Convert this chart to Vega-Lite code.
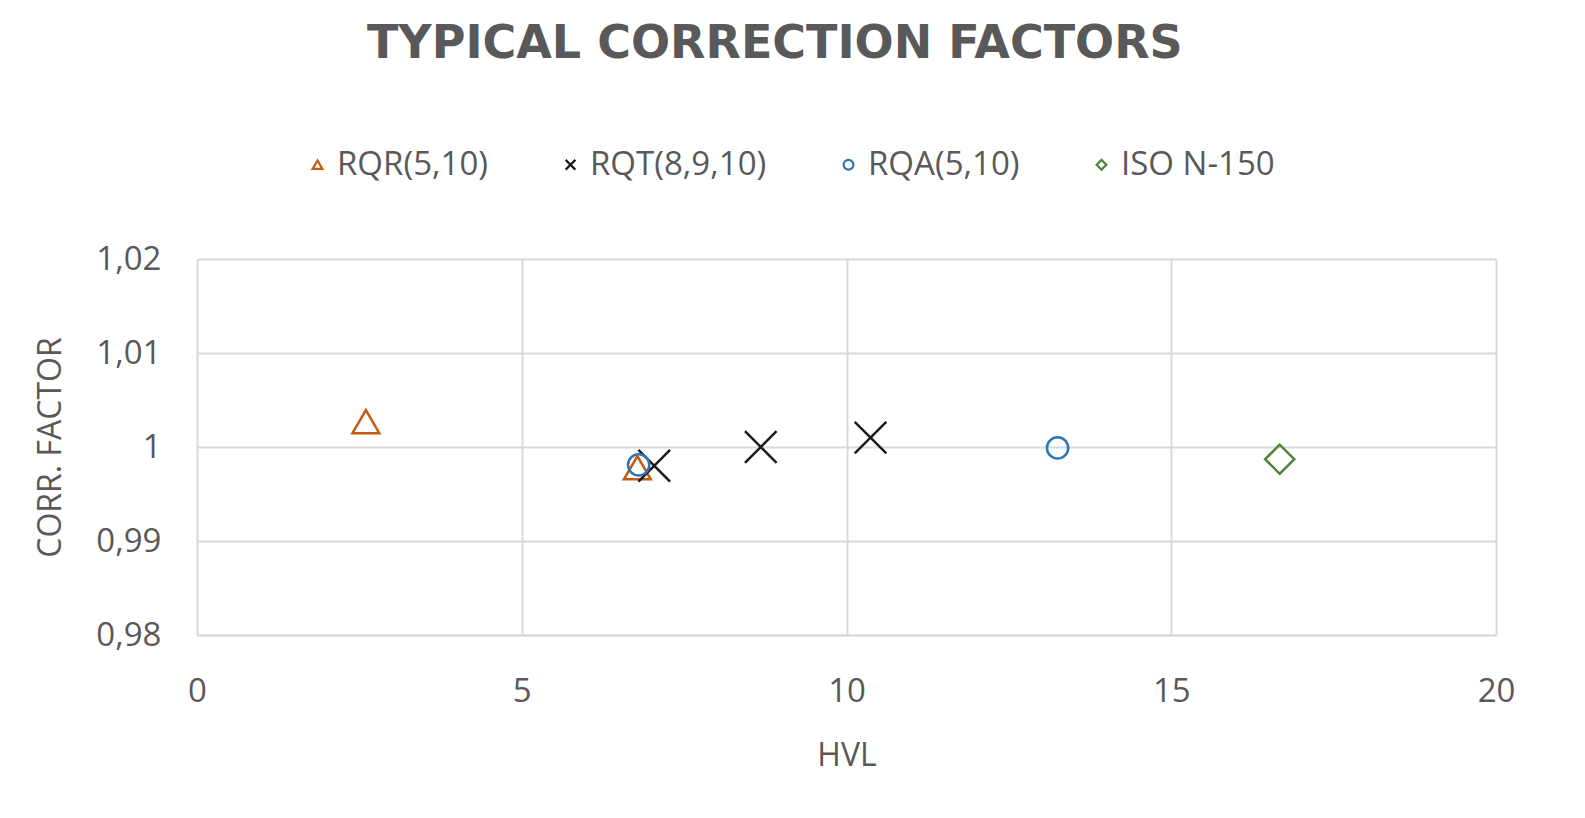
{
  "$schema": "https://vega.github.io/schema/vega-lite/v6.json",
  "width": 1299,
  "height": 376,
  "autosize": {"type": "none"},
  "padding": {"left": 197, "top": 259, "right": 89, "bottom": 183},
  "background": "white",
  "title": {
    "text": "TYPICAL CORRECTION FACTORS",
    "font": "DejaVu Sans",
    "fontSize": 46,
    "fontWeight": "bold",
    "color": "#595959",
    "anchor": "middle",
    "frame": "bounds",
    "offset": 80
  },
  "data": {
    "values": [
      {"series": "RQR(5,10)", "hvl": 2.6, "factor": 1.0027},
      {"series": "RQR(5,10)", "hvl": 6.78, "factor": 0.9978},
      {"series": "RQT(8,9,10)", "hvl": 7.04, "factor": 0.998},
      {"series": "RQT(8,9,10)", "hvl": 8.68, "factor": 1.0},
      {"series": "RQT(8,9,10)", "hvl": 10.37, "factor": 1.001},
      {"series": "RQA(5,10)", "hvl": 6.8, "factor": 0.9981},
      {"series": "RQA(5,10)", "hvl": 13.25, "factor": 0.9999},
      {"series": "ISO N-150", "hvl": 16.67, "factor": 0.9987}
    ]
  },
  "encoding": {
    "x": {
      "field": "hvl",
      "type": "quantitative",
      "scale": {"domain": [0, 20], "nice": false, "zero": false},
      "axis": {
        "title": "HVL",
        "values": [0, 5, 10, 15, 20],
        "ticks": false,
        "domain": true,
        "domainColor": "#d9d9d9",
        "domainWidth": 2,
        "grid": true,
        "gridColor": "#d9d9d9",
        "gridWidth": 2,
        "labelFlush": false,
        "labelPadding": 40,
        "titlePadding": 32
      }
    },
    "y": {
      "field": "factor",
      "type": "quantitative",
      "scale": {"domain": [0.98, 1.02], "nice": false, "zero": false},
      "axis": {
        "title": "CORR. FACTOR",
        "values": [0.98, 0.99, 1, 1.01, 1.02],
        "labelExpr": "replace(format(datum.value, '~g'), '.', ',')",
        "ticks": false,
        "domain": false,
        "grid": true,
        "gridColor": "#d9d9d9",
        "gridWidth": 2,
        "labelFlush": false,
        "labelPadding": 36,
        "titlePadding": 28
      }
    },
    "color": {
      "field": "series",
      "type": "nominal",
      "scale": {
        "domain": ["RQR(5,10)", "RQT(8,9,10)", "RQA(5,10)", "ISO N-150"],
        "range": ["#C55A11", "#1a1a1a", "#2E75B6", "#548235"]
      },
      "legend": {
        "title": null,
        "orient": "none",
        "direction": "horizontal",
        "legendX": 104,
        "legendY": -111,
        "columnPadding": 65,
        "labelOffset": 3,
        "labelLimit": 400,
        "symbolSize": 95,
        "symbolStrokeWidth": 2.2,
        "labelFont": "Open Sans",
        "labelFontSize": 33,
        "labelColor": "#595959"
      }
    },
    "shape": {
      "field": "series",
      "type": "nominal",
      "scale": {
        "domain": ["RQR(5,10)", "RQT(8,9,10)", "RQA(5,10)", "ISO N-150"],
        "range": ["triangle-up", "M-1,-1L1,1M-1,1L1,-1", "circle", "diamond"]
      },
      "legend": {
        "title": null,
        "orient": "none",
        "direction": "horizontal",
        "legendX": 104,
        "legendY": -111,
        "columnPadding": 65,
        "labelOffset": 3,
        "labelLimit": 400,
        "symbolSize": 95,
        "symbolStrokeWidth": 2.2,
        "labelFont": "Open Sans",
        "labelFontSize": 33,
        "labelColor": "#595959"
      }
    }
  },
  "layer": [
    {
      "transform": [{"filter": "datum.series === 'RQR(5,10)'"}],
      "mark": {"type": "point", "filled": false, "strokeWidth": 2.5, "opacity": 1, "size": 720}
    },
    {
      "transform": [{"filter": "datum.series === 'RQT(8,9,10)'"}],
      "mark": {"type": "point", "filled": false, "strokeWidth": 2.5, "opacity": 1, "size": 1000}
    },
    {
      "transform": [{"filter": "datum.series === 'RQA(5,10)'"}],
      "mark": {"type": "point", "filled": false, "strokeWidth": 2.5, "opacity": 1, "size": 450}
    },
    {
      "transform": [{"filter": "datum.series === 'ISO N-150'"}],
      "mark": {"type": "point", "filled": false, "strokeWidth": 2.5, "opacity": 1, "size": 850}
    }
  ],
  "config": {
    "view": {"stroke": null},
    "font": "Open Sans",
    "axis": {
      "labelFont": "Open Sans",
      "labelFontSize": 33,
      "labelColor": "#595959",
      "titleFont": "Open Sans",
      "titleFontSize": 32,
      "titleFontWeight": "normal",
      "titleColor": "#595959"
    }
  }
}
